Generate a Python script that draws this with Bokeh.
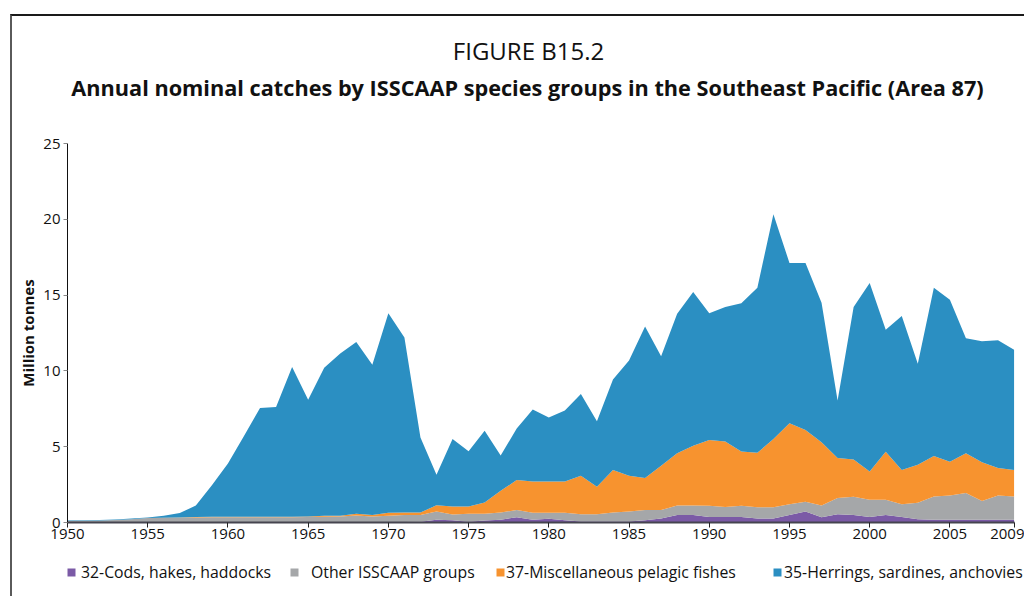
from bokeh.plotting import figure
from bokeh.models import Legend, LegendItem, FixedTicker, ColumnDataSource, Label
from bokeh.layouts import column
from bokeh.embed import file_html
from bokeh.resources import INLINE

years = list(range(1950, 2010))

# million tonnes
cods = [0.02, 0.02, 0.02, 0.02, 0.02, 0.02, 0.02, 0.02, 0.02, 0.02,
        0.02, 0.02, 0.02, 0.02, 0.02, 0.02, 0.02, 0.02, 0.02, 0.02,
        0.03, 0.04, 0.05, 0.18, 0.15, 0.05, 0.14, 0.18, 0.35, 0.18,
        0.24, 0.15, 0.06, 0.06, 0.06, 0.07, 0.15, 0.26, 0.49, 0.49,
        0.37, 0.37, 0.37, 0.26, 0.26, 0.49, 0.73, 0.35, 0.55, 0.49,
        0.37, 0.49, 0.37, 0.22, 0.18, 0.18, 0.18, 0.18, 0.18, 0.18]
other = [0.09, 0.10, 0.12, 0.15, 0.20, 0.27, 0.28, 0.29, 0.31, 0.32,
         0.32, 0.32, 0.33, 0.33, 0.33, 0.34, 0.36, 0.38, 0.44, 0.38,
         0.42, 0.46, 0.45, 0.55, 0.37, 0.53, 0.44, 0.48, 0.47, 0.46,
         0.40, 0.49, 0.49, 0.49, 0.60, 0.66, 0.67, 0.56, 0.63, 0.63,
         0.73, 0.66, 0.73, 0.75, 0.75, 0.72, 0.64, 0.77, 1.06, 1.21,
         1.13, 1.01, 0.84, 1.08, 1.54, 1.60, 1.76, 1.23, 1.60, 1.54]
misc_pelagic = [0.00, 0.00, 0.00, 0.00, 0.00, 0.00, 0.01, 0.02, 0.04, 0.04,
                0.04, 0.04, 0.03, 0.03, 0.03, 0.04, 0.06, 0.05, 0.11, 0.10,
                0.19, 0.16, 0.16, 0.40, 0.54, 0.48, 0.74, 1.43, 1.98, 2.07,
                2.07, 2.07, 2.54, 1.81, 2.80, 2.36, 2.11, 2.93, 3.44, 3.95,
                4.34, 4.32, 3.59, 3.59, 4.49, 5.33, 4.73, 4.17, 2.64, 2.45,
                1.87, 3.17, 2.25, 2.51, 2.67, 2.23, 2.62, 2.56, 1.81, 1.74]
herrings = [0.04, 0.03, 0.02, 0.03, 0.05, 0.04, 0.14, 0.29, 0.75, 2.07,
            3.52, 5.32, 7.17, 7.24, 9.87, 7.70, 9.76, 10.70, 11.33, 9.90,
            13.16, 11.54, 4.94, 2.02, 4.44, 3.64, 4.73, 2.33, 3.40, 4.74,
            4.21, 4.67, 5.39, 4.32, 5.97, 7.60, 10.00, 7.22, 9.21, 10.13,
            8.37, 8.86, 9.78, 10.89, 14.84, 10.58, 11.02, 9.21, 3.79, 10.06,
            12.43, 8.04, 10.16, 6.66, 11.10, 10.69, 7.60, 7.99, 8.44, 7.93]

series_names = ["32-Cods, hakes, haddocks", "Other ISSCAAP groups",
                "37-Miscellaneous pelagic fishes", "35-Herrings, sardines, anchovies"]
series_colors = ["#7b5aa6", "#a5a7a9", "#f7932f", "#2b8fc2"]
x_ticks = [1950, 1955, 1960, 1965, 1970, 1975, 1980, 1985, 1990, 1995, 2000, 2005, 2009]
y_ticks = [0, 5, 10, 15, 20, 25]

FONT = "Open Sans"
W = 1012

def bare(h):
    f = figure(width=W, height=h, x_range=(0, 1), y_range=(0, 1),
               output_backend="svg", toolbar_location=None,
               x_axis_type=None, y_axis_type=None, min_border=0)
    f.outline_line_color = None
    f.grid.visible = False
    return f

# ---- title block (its frame is aligned with the chart frame)
top = bare(100)
top.add_layout(Label(x=461, y=66, x_units="screen", y_units="screen",
                     text="FIGURE B15.2", text_font=FONT, text_font_size="24px",
                     text_align="center", text_baseline="middle", text_color="#111111"))
top.add_layout(Label(x=460, y=29, x_units="screen", y_units="screen",
                     text="Annual nominal catches by ISSCAAP species groups in the Southeast Pacific (Area 87)",
                     text_font=FONT, text_font_size="21.7px", text_font_style="bold",
                     text_align="center", text_baseline="middle", text_color="#111111"))

# ---- main chart
src = ColumnDataSource(dict(year=years, cods=cods, other=other,
                            misc=misc_pelagic, herr=herrings))
p = figure(width=W, height=436, x_range=(1950, 2009.65), y_range=(0, 25),
           output_backend="svg", toolbar_location=None,
           min_border_left=55, min_border_right=0, min_border_top=27,
           min_border_bottom=30)
p.outline_line_color = None
p.grid.visible = False
p.varea_stack(["cods", "other", "misc", "herr"], x="year",
              color=series_colors, source=src)

xa = p.xaxis[0]
xa.ticker = FixedTicker(ticks=x_ticks)
xa.bounds = (1950, 2009)
xa.major_label_text_font = FONT
xa.major_label_text_font_size = "15px"
xa.major_label_text_color = "#111111"
xa.major_label_standoff = 1
xa.axis_line_color = "#45444f"
xa.axis_line_width = 2
xa.major_tick_line_color = "#222222"
xa.major_tick_in = 0
xa.major_tick_out = 5
xa.minor_tick_line_color = None

ya = p.yaxis[0]
ya.ticker = FixedTicker(ticks=y_ticks)
ya.major_label_text_font = FONT
ya.major_label_text_font_size = "15px"
ya.major_label_text_color = "#111111"
ya.major_label_standoff = 3
ya.axis_line_color = "#111111"
ya.axis_line_width = 1
ya.major_tick_line_color = "#888888"
ya.major_tick_in = 0
ya.major_tick_out = 4
ya.minor_tick_line_color = None
ya.axis_label = "Million tonnes"
ya.axis_label_text_font = FONT
ya.axis_label_text_font_size = "15px"
ya.axis_label_text_font_style = "bold"
ya.axis_label_text_color = "#111111"
ya.axis_label_standoff = 2

# ---- legend block (its frame is aligned with the chart frame)
bot = bare(44)
leg_src = ColumnDataSource(dict(x=[5, 6], y1=[0, 0], y2=[0, 0]))
leg_x = [-1, 222, 428, 705]
leg_gap = [5, 12, 1, 2]
for name, col, lx, gap in zip(series_names, series_colors, leg_x, leg_gap):
    r = bot.varea(x="x", y1="y1", y2="y2", source=leg_src, fill_color=col)
    bot.add_layout(Legend(items=[LegendItem(label=name, renderers=[r])],
                          location=(lx, 13), glyph_width=10, glyph_height=10,
                          label_text_font=FONT, label_text_font_size="15.8px",
                          label_text_color="#111111", label_standoff=gap,
                          padding=0, margin=0, spacing=0,
                          border_line_color=None, background_fill_alpha=0))

page = column(top, p, bot, spacing=0, margin=(14, 0, 0, 10),
              styles={"border-left": "2px solid #5a5a5a", "border-top": "2px solid #1a1a1a"})

open("out.html", "w").write(file_html(page, INLINE))
